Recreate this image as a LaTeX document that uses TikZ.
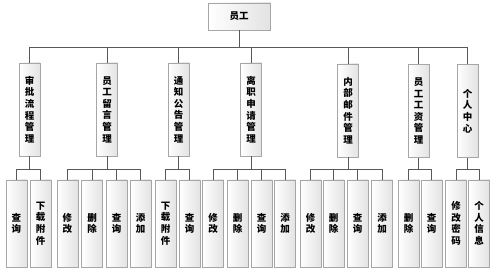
\documentclass[tikz,border=0pt]{standalone}
\usepackage{fontspec}
\setmainfont{Noto Sans CJK SC}
\usetikzlibrary{shadows}

\begin{document}
\begin{tikzpicture}[x=1pt,y=-1pt,
  box/.style={draw=gray!70, line width=0.6pt, left color=white, right color=gray!22,
    drop shadow={shadow xshift=0.9pt, shadow yshift=-0.9pt, opacity=0.25},
    inner sep=0pt, align=center, font=\fontsize{9.5}{11.6}\selectfont\bfseries},
  topbox/.style={box, minimum width=62pt, minimum height=27pt},
  midbox/.style={box, minimum width=21pt, minimum height=93pt},
  leafbox/.style={box, minimum width=21pt, minimum height=87pt},
  link/.style={draw=black!65, line width=0.7pt}]
\useasboundingbox (0,0) rectangle (499,272);
\coordinate (bus) at (0,47);
\coordinate (sub) at (0,169);

\node[topbox] (staff) at (239,16.5) {员工};

\node[midbox] (approve) at (29.5,109.5) {审\\批\\流\\程\\管\\理};
\node[midbox] (message) at (107,109.5) {员\\工\\留\\言\\管\\理};
\node[midbox] (notice)  at (178.5,109.5) {通\\知\\公\\告\\管\\理};
\node[midbox] (resign)  at (251,109.5) {离\\职\\申\\请\\管\\理};
\node[midbox] (mail)    at (348,110.5) {内\\部\\邮\\件\\管\\理};
\node[midbox] (salary)  at (418.5,111) {员\\工\\工\\资\\管\\理};
\node[midbox] (center)  at (467.5,111) {个\\人\\中\\心};

\node[leafbox] (approveA) at (16.5,223.5)  {查\\询};
\node[leafbox] (approveB) at (40.5,223.5)  {下\\载\\附\\件};
\node[leafbox] (messageA) at (67.5,223.5)  {修\\改};
\node[leafbox] (messageB) at (92,223.5)    {删\\除};
\node[leafbox] (messageC) at (116.5,223.5) {查\\询};
\node[leafbox] (messageD) at (140.5,223.5) {添\\加};
\node[leafbox] (noticeA)  at (165.5,223.5) {下\\载\\附\\件};
\node[leafbox] (noticeB)  at (189.5,223.5) {查\\询};
\node[leafbox] (resignA)  at (213,223.5)   {修\\改};
\node[leafbox] (resignB)  at (237.5,223.5) {删\\除};
\node[leafbox] (resignC)  at (261.5,223.5) {查\\询};
\node[leafbox] (resignD)  at (285,223.5)   {添\\加};
\node[leafbox] (mailA)    at (310.5,223.5) {修\\改};
\node[leafbox] (mailB)    at (333.5,223.5) {删\\除};
\node[leafbox] (mailC)    at (357.5,223.5) {查\\询};
\node[leafbox] (mailD)    at (382,223.5)   {添\\加};
\node[leafbox] (salaryA)  at (408.5,223.5) {删\\除};
\node[leafbox] (salaryB)  at (431.5,223.5) {查\\询};
\node[leafbox] (centerA)  at (456,223.5)   {修\\改\\密\\码};
\node[leafbox] (centerB)  at (479,223.5)   {个\\人\\信\\息};

\foreach \m in {approve,message,notice,resign,mail,salary,center}
  \draw[link] (staff.south) -- (staff.south |- bus) -| (\m.north);

\foreach \m/\leaves in {approve/{A,B},message/{A,B,C,D},notice/{A,B},
    resign/{A,B,C,D},mail/{A,B,C,D},salary/{A,B},center/{A,B}}
  \foreach \l in \leaves
    \draw[link] (\m.south) -- (\m.south |- sub) -| (\m\l.north);
\end{tikzpicture}
\end{document}
